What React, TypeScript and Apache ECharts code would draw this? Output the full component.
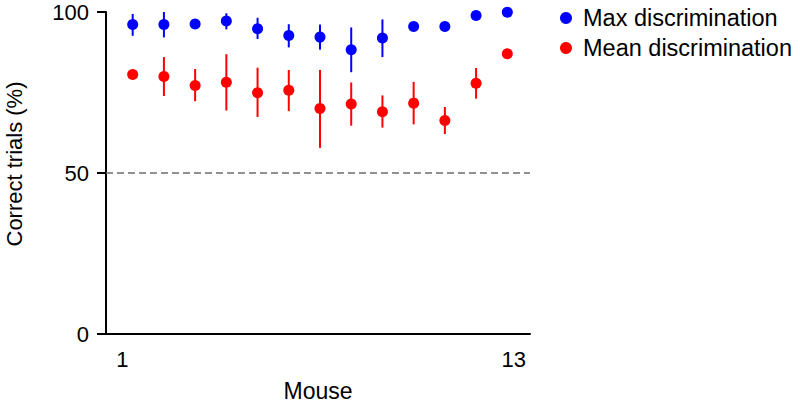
import React, { useEffect, useRef } from "react";
import * as echarts from "echarts";

const mice = [1, 2, 3, 4, 5, 6, 7, 8, 9, 10, 11, 12, 13];
const tickCategories = ["1", "2", "3", "4", "5", "6", "7", "8", "9", "10", "11", "12", "13"];
const yTicks = [0, 50, 100];

const maxDisc = [96.1, 96.1, 96.3, 97.2, 94.8, 92.7, 92.2, 88.3, 91.9, 95.5, 95.5, 98.9, 99.9];
const maxLow = [92.6, 92.1, null, 94.6, 91.6, 89.0, 88.3, 81.3, 86.0, null, null, null, null];
const maxHigh = [99.4, 100, null, 99.6, 98.2, 96.2, 96.1, 95.2, 97.7, null, null, null, null];

const meanDisc = [80.6, 80.0, 77.2, 78.2, 74.9, 75.7, 70.0, 71.4, 69.0, 71.7, 66.3, 77.9, 87.0];
const meanLow = [null, 73.9, 72.3, 69.4, 67.4, 69.2, 57.8, 64.7, 64.1, 65.1, 62.1, 73.1, null];
const meanHigh = [null, 86.0, 82.3, 86.9, 82.7, 82.0, 82.0, 78.1, 74.1, 78.3, 70.5, 82.6, null];

const chanceLevel = 50;

const FONT = "'Liberation Sans', Arial, Helvetica, sans-serif";

function errData(low: (number | null)[], high: (number | null)[]) {
  const out: number[][] = [];
  mice.forEach((m, i) => {
    const lo = low[i];
    const hi = high[i];
    if (lo != null && hi != null) out.push([m, lo, hi]);
  });
  return out;
}

function errSeries(name: string, low: (number | null)[], high: (number | null)[], color: string) {
  return {
    type: "custom",
    name: name + " err",
    xAxisIndex: 1,
    yAxisIndex: 0,
    silent: true,
    z: 1,
    data: errData(low, high),
    encode: { x: 0, y: [1, 2] },
    renderItem: (_params: any, api: any) => {
      const x = api.value(0);
      const p1 = api.coord([x, api.value(1)]);
      const p2 = api.coord([x, api.value(2)]);
      return {
        type: "line",
        shape: { x1: p1[0], y1: p1[1], x2: p2[0], y2: p2[1] },
        style: { stroke: color, lineWidth: 2 },
      };
    },
  };
}

export default function App() {
  const ref = useRef<HTMLDivElement>(null);
  useEffect(() => {
    if (!ref.current) return;
    const chart = echarts.init(ref.current, null, { renderer: "svg" });
    chart.setOption({
      animation: false,
      backgroundColor: "#ffffff",
      textStyle: { fontFamily: FONT },
      grid: { left: 106, right: 270, top: 12, bottom: 66, containLabel: false },
      legend: {
        orient: "vertical",
        left: 555,
        top: 1,
        itemWidth: 24,
        itemHeight: 12,
        itemGap: 6,
        data: ["Max discrimination", "Mean discrimination"],
        textStyle: { fontSize: 23.5, color: "#000", fontFamily: FONT },
      },
      xAxis: [
        {
          type: "category",
          data: tickCategories,
          boundaryGap: true,
          name: "Mouse",
          nameLocation: "middle",
          nameGap: 45,
          nameTextStyle: { fontSize: 23, color: "#000", fontFamily: FONT },
          axisLine: { lineStyle: { color: "#000", width: 2 } },
          axisTick: { alignWithLabel: true, length: 8, lineStyle: { color: "#000", width: 2 } },
          axisLabel: {
            interval: 0,
            fontSize: 22,
            color: "#000",
            margin: 14,
            fontFamily: FONT,
            formatter: (v: string) => (v === "1" || v === "13" ? v : ""),
          },
          splitLine: { show: false },
        },
        {
          type: "value",
          min: 0.145,
          max: 13.727,
          show: false,
        },
      ],
      yAxis: {
        type: "value",
        min: yTicks[0],
        max: yTicks[yTicks.length - 1],
        interval: 50,
        axisLine: { show: true, lineStyle: { color: "#000", width: 2 } },
        axisTick: { show: true, length: 9, lineStyle: { color: "#000", width: 2 } },
        axisLabel: { fontSize: 22, color: "#000", margin: 17, fontFamily: FONT },
        splitLine: { show: false },
      },
      graphic: [
        {
          type: "text",
          x: 14,
          y: 164,
          rotation: Math.PI / 2,
          style: {
            text: "Correct trials (%)",
            font: "22px " + FONT,
            fill: "#000",
            textAlign: "center",
            textVerticalAlign: "middle",
          },
        },
      ],
      series: [
        errSeries("Max discrimination", maxLow, maxHigh, "#0000ff"),
        errSeries("Mean discrimination", meanLow, meanHigh, "#ff0000"),
        {
          type: "scatter",
          name: "Max discrimination",
          xAxisIndex: 1,
          yAxisIndex: 0,
          symbol: "circle",
          symbolSize: 11,
          z: 3,
          itemStyle: { color: "#0000ff", opacity: 1 },
          data: mice.map((m, i) => [m, maxDisc[i]]),
        },
        {
          type: "scatter",
          name: "Mean discrimination",
          xAxisIndex: 1,
          yAxisIndex: 0,
          symbol: "circle",
          symbolSize: 11,
          z: 3,
          itemStyle: { color: "#ff0000", opacity: 1 },
          data: mice.map((m, i) => [m, meanDisc[i]]),
          markLine: {
            silent: true,
            symbol: ["none", "none"],
            label: { show: false },
            lineStyle: { color: "#6e6e6e", width: 1.5, type: [7, 4] },
            data: [{ yAxis: chanceLevel }],
          },
        },
      ],
    });
    return () => chart.dispose();
  }, []);
  return (
    <div
      ref={ref}
      style={{ position: "fixed", left: 0, top: 0, width: 800, height: 407, background: "#fff" }}
    />
  );
}
